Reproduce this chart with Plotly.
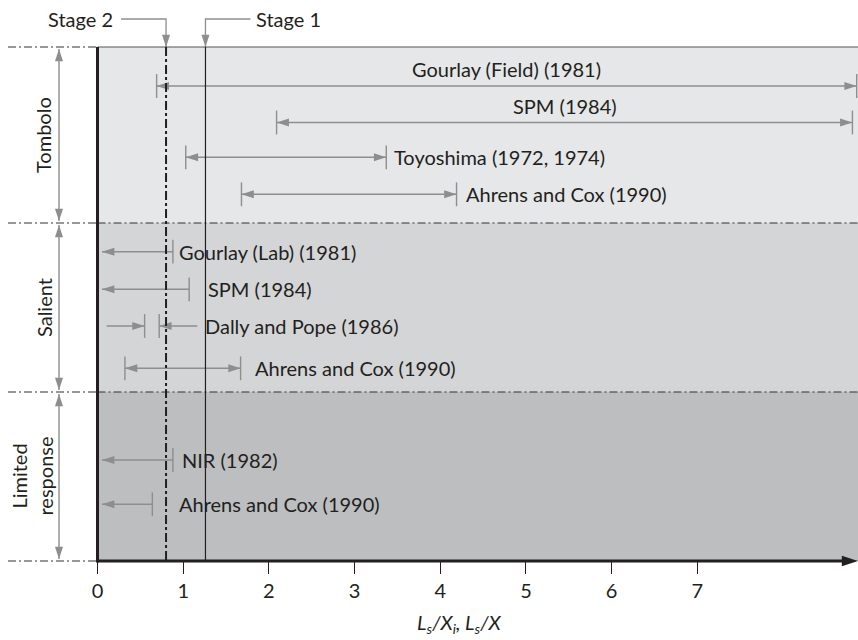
import plotly.graph_objects as go

# ---------------- data ----------------
zone_names = ["Tombolo", "Salient", "Limited<br>response"]
study_names = ["Gourlay (Field) (1981)", "SPM (1984)", "Toyoshima (1972, 1974)",
               "Ahrens and Cox (1990)", "Gourlay (Lab) (1981)", "SPM (1984)",
               "Dally and Pope (1986)", "Ahrens and Cox (1990)", "NIR (1982)",
               "Ahrens and Cox (1990)"]
study_zone = [0, 0, 0, 0, 1, 1, 1, 1, 2, 2]
# None lower bound = range extends down to zero (open arrow)
ratio_lower = [0.69, 2.09, 1.03, 1.68, None, None, 0.55, 0.32, None, None]
ratio_upper = [8.86, 8.81, 3.37, 4.19, 0.88, 1.07, 0.72, 1.67, 0.88, 0.64]
stage_names = ["Stage 2", "Stage 1"]
stage_ratio = [0.80, 1.26]
x_tick_values = [0, 1, 2, 3, 4, 5, 6, 7]
x_tick_labels = ["0", "1", "2", "3", "4", "5", "6", "7"]

# ---------------- layout / style ----------------
W, H = 858, 640
X0_PX = 97.5
PX = 85.69                      # pixels per axis unit
X_MIN = -X0_PX / PX
X_MAX = (W - X0_PX) / PX
zone_bounds_px = [47, 223, 392, 561]
row_y = [86, 122.5, 157.3, 194.3, 251.7, 289.3, 326, 368.3, 460, 504.3]
label_mode = ["above", "above", "right", "right", "right", "right",
              "right", "right", "right", "right"]
label_gap_px = [0, 0, 9, 10, 7, 20, 9, 15, 10, 28]
range_style = ["in", "in", "in", "in", "open", "open", "out", "in", "open", "open"]
zone_label_x_px = [43, 43.5, 31]
zone_colors = ["#e6e7e8", "#d4d5d7", "#bcbec0"]
GRAY = "#8e8e8e"
INK = "#231f20"
FONT = "Lato"
FS = 20
OPEN_TIP = 4.5 / PX
TAIL = 38 / PX
ARROW_SIZE = 13

def px2x(p):
    return (p - X0_PX) / PX

fig = go.Figure()
shapes = []
annotations = []

# zones
for i in range(3):
    shapes.append(dict(type="rect", xref="x", yref="y", x0=0, x1=X_MAX,
                       y0=zone_bounds_px[i], y1=zone_bounds_px[i + 1],
                       fillcolor=zone_colors[i], line=dict(width=0), layer="below"))
# boundary lines
left_x = px2x(8)
for j, b in enumerate(zone_bounds_px):
    shapes.append(dict(type="line", xref="x", yref="y", x0=left_x, x1=0, y0=b, y1=b,
                       line=dict(color="#333333", width=1.2, dash="8px,3px,2px,3px")))
    if j in (1, 2):
        shapes.append(dict(type="line", xref="x", yref="y", x0=0, x1=X_MAX, y0=b, y1=b,
                           line=dict(color="#333333", width=1.2, dash="8px,3px,2px,3px")))
    if j == 0:
        shapes.append(dict(type="line", xref="x", yref="y", x0=0, x1=X_MAX, y0=b, y1=b,
                           line=dict(color="#555555", width=1.2)))

# stage lines
shapes.append(dict(type="line", xref="x", yref="y", x0=stage_ratio[0], x1=stage_ratio[0],
                   y0=zone_bounds_px[0], y1=zone_bounds_px[3],
                   line=dict(color=INK, width=2, dash="9px,3px,3px,3px")))
shapes.append(dict(type="line", xref="x", yref="y", x0=stage_ratio[1], x1=stage_ratio[1],
                   y0=zone_bounds_px[0], y1=zone_bounds_px[3],
                   line=dict(color=INK, width=1.2)))

# axes lines
shapes.append(dict(type="line", xref="x", yref="y", x0=0, x1=0,
                   y0=zone_bounds_px[0], y1=zone_bounds_px[3] + 1.5,
                   line=dict(color=INK, width=3)))
shapes.append(dict(type="line", xref="x", yref="y", x0=0, x1=X_MAX - 12 / PX,
                   y0=zone_bounds_px[3], y1=zone_bounds_px[3],
                   line=dict(color=INK, width=3)))

# ranges
lx, ly = [], []
bx, by = [], []
ax_, ay_, ang = [], [], []
for i in range(len(study_names)):
    y = row_y[i]
    lo, hi, st = ratio_lower[i], ratio_upper[i], range_style[i]
    if st == "in":
        lx += [lo, hi, None]; ly += [y, y, None]
        bx += [lo, hi]; by += [y, y]
        ax_ += [lo, hi]; ay_ += [y, y]; ang += [-90, 90]
    elif st == "open":
        lx += [OPEN_TIP, hi, None]; ly += [y, y, None]
        bx += [hi]; by += [y]
        ax_ += [OPEN_TIP]; ay_ += [y]; ang += [-90]
    else:  # narrow range, arrows from outside
        lx += [lo - TAIL, lo, None, hi, hi + TAIL, None]; ly += [y, y, None, y, y, None]
        bx += [lo, hi]; by += [y, y]
        ax_ += [lo, hi]; ay_ += [y, y]; ang += [90, -90]

# left zone arrows
zx = px2x(59)
for i in range(3):
    t, b = zone_bounds_px[i] + 2, zone_bounds_px[i + 1] - 2
    lx += [zx, zx, None]; ly += [t, b, None]
    ax_ += [zx, zx]; ay_ += [t, b]; ang += [0, 180]

fig.add_trace(go.Scatter(x=lx, y=ly, mode="lines", line=dict(color=GRAY, width=1.4),
                         hoverinfo="skip", cliponaxis=False, showlegend=False))
fig.add_trace(go.Scatter(x=bx, y=by, mode="markers",
                         marker=dict(symbol="line-ns", size=17,
                                     line=dict(color=GRAY, width=1.4)),
                         hoverinfo="skip", cliponaxis=False, showlegend=False))

# stage leaders
LEAD = 45 / PX
TOPY = 19
sx = [stage_ratio[0] - LEAD, stage_ratio[0], stage_ratio[0], None,
      stage_ratio[1], stage_ratio[1], stage_ratio[1] + LEAD]
sy = [TOPY, TOPY, zone_bounds_px[0], None, zone_bounds_px[0], TOPY, TOPY]
fig.add_trace(go.Scatter(x=sx, y=sy, mode="lines", line=dict(color=GRAY, width=1.3),
                         hoverinfo="skip", cliponaxis=False, showlegend=False))
for s in stage_ratio:
    ax_.append(s); ay_.append(zone_bounds_px[0]); ang.append(180)

fig.add_trace(go.Scatter(x=ax_, y=ay_, mode="markers",
                         marker=dict(symbol="arrow", size=ARROW_SIZE, angle=ang,
                                     color=GRAY, line=dict(width=0)),
                         hoverinfo="skip", cliponaxis=False, showlegend=False))
# x-axis arrow head
fig.add_trace(go.Scatter(x=[X_MAX], y=[zone_bounds_px[3]], mode="markers",
                         marker=dict(symbol="arrow", size=17, angle=90, color=INK,
                                     line=dict(width=0)),
                         hoverinfo="skip", cliponaxis=False, showlegend=False))

# labels
for i, name in enumerate(study_names):
    y = row_y[i]
    if label_mode[i] == "above":
        annotations.append(dict(x=(ratio_lower[i] + ratio_upper[i]) / 2, y=y, xref="x", yref="y",
                                text=name, showarrow=False, xanchor="center", yanchor="middle",
                                yshift=17, font=dict(family=FONT, size=FS, color=INK)))
    else:
        if range_style[i] == "out":
            end = ratio_upper[i] + TAIL
        else:
            end = ratio_upper[i]
        annotations.append(dict(x=end, y=y, xref="x", yref="y", text=name, showarrow=False,
                                xanchor="left", yanchor="middle", xshift=label_gap_px[i] - 3,
                                font=dict(family=FONT, size=FS, color=INK)))

for i, z in enumerate(zone_names):
    annotations.append(dict(x=px2x(zone_label_x_px[i]),
                            y=(zone_bounds_px[i] + zone_bounds_px[i + 1]) / 2,
                            xref="x", yref="y", text=z, showarrow=False, textangle=-90,
                            xanchor="center", yanchor="middle",
                            font=dict(family=FONT, size=FS, color=INK)))

annotations.append(dict(x=stage_ratio[0] - LEAD, y=TOPY, xref="x", yref="y", text=stage_names[0],
                        showarrow=False, xanchor="right", yanchor="middle", xshift=-6,
                        font=dict(family=FONT, size=FS, color=INK)))
annotations.append(dict(x=stage_ratio[1] + LEAD, y=TOPY, xref="x", yref="y", text=stage_names[1],
                        showarrow=False, xanchor="left", yanchor="middle", xshift=4,
                        font=dict(family=FONT, size=FS, color=INK)))

annotations.append(dict(x=px2x(459), y=623, xref="x", yref="y",
                        text="<i>L<sub>s</sub>/X<sub>i</sub>, L<sub>s</sub>/X</i>",
                        showarrow=False, xanchor="center", yanchor="middle",
                        font=dict(family=FONT, size=FS, color=INK)))

fig.update_layout(
    width=W, height=H, margin=dict(l=0, r=0, t=0, b=0),
    paper_bgcolor="white", plot_bgcolor="white",
    shapes=shapes, annotations=annotations, showlegend=False,
    xaxis=dict(range=[X_MIN, X_MAX], domain=[0, 1], anchor="free",
               position=1 - zone_bounds_px[3] / H, showline=False, showgrid=False,
               zeroline=False, ticks="outside", ticklen=12, tickwidth=1.4, tickcolor=INK,
               tickvals=x_tick_values, ticktext=x_tick_labels,
               tickfont=dict(family=FONT, size=FS, color=INK), fixedrange=True,
               automargin=False),
    yaxis=dict(range=[H, 0], domain=[0, 1], visible=False, fixedrange=True,
               automargin=False),
)

fig.write_html("out.html", config={"displayModeBar": False},
               post_script="document.body.style.margin='0';document.body.style.overflow='hidden';")
